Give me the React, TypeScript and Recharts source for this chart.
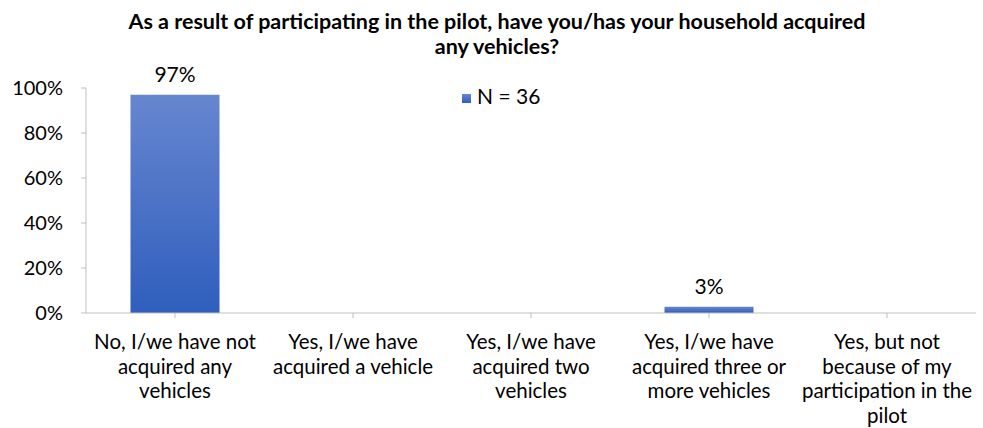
import React from "react";
import { BarChart, Bar, XAxis, YAxis, Legend, LabelList } from "recharts";

const categories = [
  "No, I/we have not\nacquired any\nvehicles",
  "Yes, I/we have\nacquired a vehicle",
  "Yes, I/we have\nacquired two\nvehicles",
  "Yes, I/we have\nacquired three or\nmore vehicles",
  "Yes, but not\nbecause of my\nparticipation in the\npilot",
];
const values = [0.97, 0, 0, 0.028, 0];
const yTicks = [0, 0.2, 0.4, 0.6, 0.8, 1];
const seriesName = "N = 36";
const titleLines = [
  "As a result of participating in the pilot, have you/has your household acquired",
  "any vehicles?",
];

const data = categories.map((c, i) => ({ cat: c, v: values[i] }));
const FONT = "Lato, 'Open Sans', sans-serif";

const XTick = (props: any) => {
  const { x, y, payload } = props;
  const lines = String(payload.value).split("\n");
  return (
    <g transform={`translate(${x},${y})`}>
      {lines.map((l, i) => (
        <text key={i} x={0} y={0} dy={29 + i * 24.7} textAnchor="middle" fill="#000" fontSize={20.5} fontFamily={FONT}>
          {l}
        </text>
      ))}
    </g>
  );
};

export default function App() {
  return (
    <div style={{ position: "fixed", left: 0, top: 0, width: 983, height: 428, background: "#fff", fontFamily: FONT }}>
      <div style={{ position: "absolute", left: 0, top: 9, width: 994, textAlign: "center", fontWeight: 700, fontSize: 21.5, lineHeight: "25px", color: "#000" }}>
        {titleLines.map((t, i) => (
          <div key={i}>{t}</div>
        ))}
      </div>
      <BarChart width={983} height={428} data={data} margin={{ top: 63, right: 7, left: 6, bottom: 0 }} barCategoryGap="25%">
        <defs>
          <linearGradient id="barGrad" x1="0" y1="0" x2="0" y2="1">
            <stop offset="0%" stopColor="#6786CF" />
            <stop offset="100%" stopColor="#2F5EBD" />
          </linearGradient>
        </defs>
        <XAxis
          dataKey="cat"
          tick={<XTick />}
          interval={0}
          axisLine={{ stroke: "#BFBFBF" }}
          tickLine={{ stroke: "#BFBFBF" }}
          tickSize={5}
          height={115}
        />
        <YAxis
          width={80}
          domain={[0, 1]}
          ticks={yTicks}
          tickFormatter={(v: number) => `${Math.round(v * 100)}%`}
          tick={{ fill: "#000", fontSize: 20, fontFamily: FONT }}
          axisLine={{ stroke: "#BFBFBF" }}
          tickLine={{ stroke: "#BFBFBF" }}
          tickSize={5}
          tickMargin={18}
        />
        <Legend
          verticalAlign="top"
          align="left"
          iconType="square"
          iconSize={9}
          wrapperStyle={{ position: "absolute", top: 83, left: 462, width: 140, fontSize: 21, fontFamily: FONT }}
          formatter={(v: string) => <span style={{ color: "#000", marginLeft: 2 }}>{v}</span>}
        />
        <Bar dataKey="v" name={seriesName} fill="url(#barGrad)" isAnimationActive={false} legendType="square">
          <LabelList
            dataKey="v"
            position="top"
            offset={13}
            formatter={(v: number) => (v > 0 ? `${Math.round(v * 100)}%` : "")}
            style={{ fill: "#000", fontSize: 21, fontFamily: FONT }}
          />
        </Bar>
      </BarChart>
    </div>
  );
}
